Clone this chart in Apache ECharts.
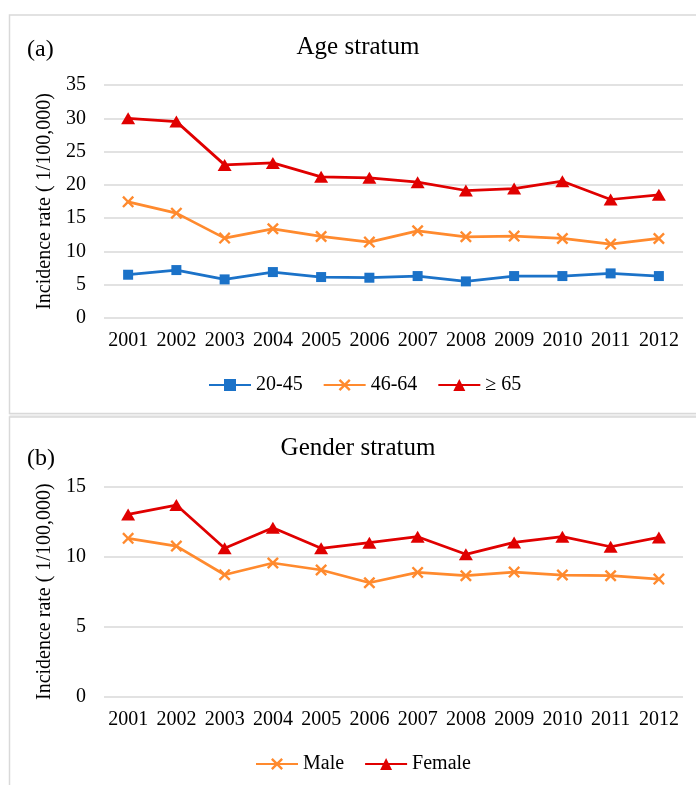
<!DOCTYPE html>
<html>
<head>
<meta charset="utf-8">
<script src="https://cdn.jsdelivr.net/npm/echarts@6/dist/echarts.min.js"></script>
<style>
html,body{margin:0;padding:0;background:#fff;}
#c{width:696px;height:785px;}
</style>
</head>
<body>
<div id="c"></div>
<script>
const years = ['2001','2002','2003','2004','2005','2006','2007','2008','2009','2010','2011','2012'];
const age2045 = [6.5,7.2,5.8,6.9,6.15,6.05,6.3,5.5,6.3,6.3,6.7,6.3];
const age4664 = [17.45,15.75,12.0,13.4,12.25,11.4,13.1,12.2,12.3,11.95,11.1,11.95];
const age65 = [30.0,29.5,23.0,23.3,21.2,21.05,20.4,19.15,19.45,20.55,17.8,18.5];
const male = [11.31,10.76,8.71,9.55,9.05,8.14,8.88,8.64,8.9,8.69,8.64,8.4];
const female = [13.02,13.69,10.6,12.07,10.6,11.0,11.43,10.17,11.02,11.43,10.71,11.38];
const ageTicks = {min:0,max:35,interval:5};
const genderTicks = {min:0,max:15,interval:5};

const FONT = 'Liberation Serif';
const BLUE = '#1B72C8', ORANGE = '#FF8A2E', RED = '#E00000';
const XMARK = 'path://M0,1.4 L1.4,0 L5,3.6 L8.6,0 L10,1.4 L6.4,5 L10,8.6 L8.6,10 L5,6.4 L1.4,10 L0,8.6 L3.6,5 Z';

const chart = echarts.init(document.getElementById('c'), null, {renderer:'canvas'});

function yAx(grid, t){
  return {type:'value', gridIndex:grid, min:t.min, max:t.max, interval:t.interval,
    axisLine:{show:false}, axisTick:{show:false},
    splitLine:{lineStyle:{color:'#D9D9D9', width:1.5}},
    axisLabel:{color:'#000', fontFamily:FONT, fontSize:20, margin:18},
    name:'Incidence rate ( 1/100,000)', nameLocation:'middle', nameGap:46,
    nameTextStyle:{color:'#000', fontFamily:FONT, fontSize:20}};
}
function xAx(grid){
  return {type:'category', gridIndex:grid, data:years, boundaryGap:true,
    axisLine:{show:false}, axisTick:{show:false},
    axisLabel:{color:'#000', fontFamily:FONT, fontSize:20, margin:13, interval:0}};
}
function ser(name, data, color, symbol, size, xi){
  return {type:'line', name, data, xAxisIndex:xi, yAxisIndex:xi, symbol, symbolSize:size,
    showAllSymbol:true,
    lineStyle:{color, width:2.75}, itemStyle:{color}, emphasis:{disabled:true}, animation:false};
}

chart.setOption({
  animation:false,
  grid:[
    {left:104, right:13, top:85, height:233},
    {left:104, right:13, top:486.7, height:210}
  ],
  xAxis:[xAx(0), xAx(1)],
  yAxis:[yAx(0, ageTicks), yAx(1, genderTicks)],
  legend:[
    {left:208, top:375, padding:0, itemWidth:42, itemHeight:15, itemGap:20,
     data:['20-45','46-64','≥ 65'],
     textStyle:{color:'#000', fontFamily:FONT, fontSize:20}},
    {left:255, top:754, padding:0, itemWidth:42, itemHeight:15, itemGap:20,
     data:['Male','Female'],
     textStyle:{color:'#000', fontFamily:FONT, fontSize:20}}
  ],
  graphic:[
    {type:'rect', shape:{x:9.5, y:15, width:700, height:398.5}, style:{fill:'none', stroke:'#D9D9D9', lineWidth:1.5}, z:-10},
    {type:'rect', shape:{x:9.5, y:414, width:700, height:3}, style:{fill:'#EDEDED', stroke:'none'}, z:-10},
    {type:'rect', shape:{x:9.5, y:417, width:700, height:400}, style:{fill:'none', stroke:'#D9D9D9', lineWidth:1.5}, z:-10},
    {type:'text', x:358, y:47, style:{text:'Age stratum', fill:'#000', font:'25px "Liberation Serif"', textAlign:'center', textVerticalAlign:'middle'}},
    {type:'text', x:27, y:50, style:{text:'(a)', fill:'#000', font:'24px "Liberation Serif"', textAlign:'left', textVerticalAlign:'middle'}},
    {type:'text', x:358, y:448, style:{text:'Gender stratum', fill:'#000', font:'25px "Liberation Serif"', textAlign:'center', textVerticalAlign:'middle'}},
    {type:'text', x:27, y:459, style:{text:'(b)', fill:'#000', font:'24px "Liberation Serif"', textAlign:'left', textVerticalAlign:'middle'}}
  ],
  series:[
    ser('20-45', age2045, BLUE, 'rect', 10, 0),
    ser('46-64', age4664, ORANGE, XMARK, 12, 0),
    ser('≥ 65', age65, RED, 'triangle', [14,12], 0),
    ser('Male', male, ORANGE, XMARK, 12, 1),
    ser('Female', female, RED, 'triangle', [14,12], 1)
  ]
});
</script>
</body>
</html>
